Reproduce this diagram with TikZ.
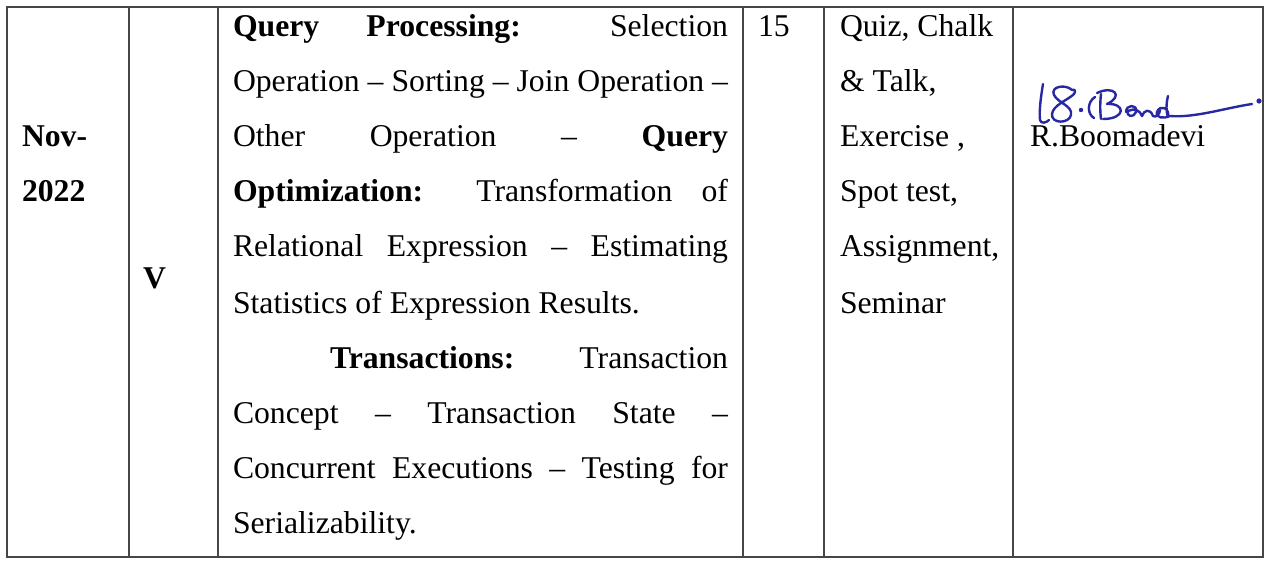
\documentclass[tikz,border=0pt]{standalone}
\usepackage{fontspec}
\setmainfont{Liberation Serif}
\definecolor{gridgray}{RGB}{70,70,70}
\definecolor{sigblue}{RGB}{40,40,165}
\begin{document}
\begin{tikzpicture}[x=1pt,y=-1pt,
  grid/.style={draw=gridgray,line width=1.4pt},
  txt/.style={anchor=base west,inner sep=0pt,outer sep=0pt,font=\fontsize{31.7}{38}\selectfont},
  sig/.style={draw=sigblue,line width=2.4pt,line cap=round,line join=round}]
\useasboundingbox (0,0) rectangle (1271,561);
\fill[white] (0,0) rectangle (1271,561);
% table grid
\draw[grid] (7,7) rectangle (1263,557);
\foreach \xx in {129,218,743,824,1013}{\draw[grid] (\xx,7) -- (\xx,557);}
% column 1 and 2
\node[txt] (nov) at (22,147) {\textbf{Nov-}};
\node[txt] (yr) at (22,202) {\textbf{2022}};
\node[txt] (unit) at (143,288) {\textbf{V}};
% column 3
\node[txt] (l0) at (233,37) {\makebox[495pt][s]{\textbf{Query} \textbf{Processing:} Selection}};
\node[txt] (l1) at (233,92) {\makebox[495pt][s]{Operation -- Sorting -- Join Operation --}};
\node[txt] (l2) at (233,147) {\makebox[495pt][s]{Other Operation -- \textbf{Query}}};
\node[txt] (l3) at (233,202) {\makebox[495pt][s]{\textbf{Optimization:} Transformation of}};
\node[txt] (l4) at (233,257) {\makebox[495pt][s]{Relational Expression -- Estimating}};
\node[txt] (l5) at (233,313) {Statistics of Expression Results.};
\node[txt] (l6) at (330,368) {\makebox[398pt][s]{\textbf{Transactions:} Transaction}};
\node[txt] (l7) at (233,423) {\makebox[495pt][s]{Concept -- Transaction State --}};
\node[txt] (l8) at (233,478) {\makebox[495pt][s]{Concurrent Executions -- Testing for}};
\node[txt] (l9) at (233,533) {Serializability.};
% column 4
\node[txt] (hrs) at (758,37) {15};
% column 5
\node[txt] (m0) at (840,37) {Quiz, Chalk};
\node[txt] (m1) at (840,92) {\& Talk,};
\node[txt] (m2) at (840,147) {Exercise ,};
\node[txt] (m3) at (840,202) {Spot test,};
\node[txt] (m4) at (840,257) {Assignment,};
\node[txt] (m5) at (840,313) {Seminar};
% column 6
\node[txt] (name) at (1030,147) {R.Boomadevi};
% signature
\draw[sig] (1043,84) .. controls (1041,96) and (1039,110) .. (1040,120) .. controls (1041,124) and (1046,123) .. (1049,120);
\draw[sig] (1072,90) .. controls (1066,84) and (1050,86) .. (1054,95) .. controls (1058,103) and (1073,106) .. (1071,115) .. controls (1069,124) and (1051,124) .. (1052,114) .. controls (1053,105) and (1068,100) .. (1074,94) .. controls (1076,91) and (1075,89) .. (1072,90);
\fill[sigblue] (1081,110) circle (2.2);
\draw[sig] (1095,97) .. controls (1087,102) and (1087,114) .. (1094,118);
\draw[sig] (1101,94) .. controls (1100,102) and (1100,112) .. (1101,119);
\draw[sig] (1097,93) .. controls (1114,85) and (1124,96) .. (1107,104) .. controls (1126,103) and (1126,119) .. (1103,119);
\draw[sig] (1126,112) .. controls (1126,104) and (1138,104) .. (1136,112) .. controls (1134,118) and (1126,117) .. (1128,111) .. controls (1134,108) and (1140,110) .. (1142,116) .. controls (1144,110) and (1150,108) .. (1153,116) .. controls (1156,118) and (1160,114) .. (1160,110);
\draw[sig] (1168,96) .. controls (1166,104) and (1166,112) .. (1168,117) .. controls (1170,108) and (1160,104) .. (1157,112) .. controls (1155,118) and (1164,119) .. (1170,116) .. controls (1195,118) and (1225,108) .. (1252,104);
\fill[sigblue] (1259,101) circle (2.6);
\end{tikzpicture}
\end{document}
